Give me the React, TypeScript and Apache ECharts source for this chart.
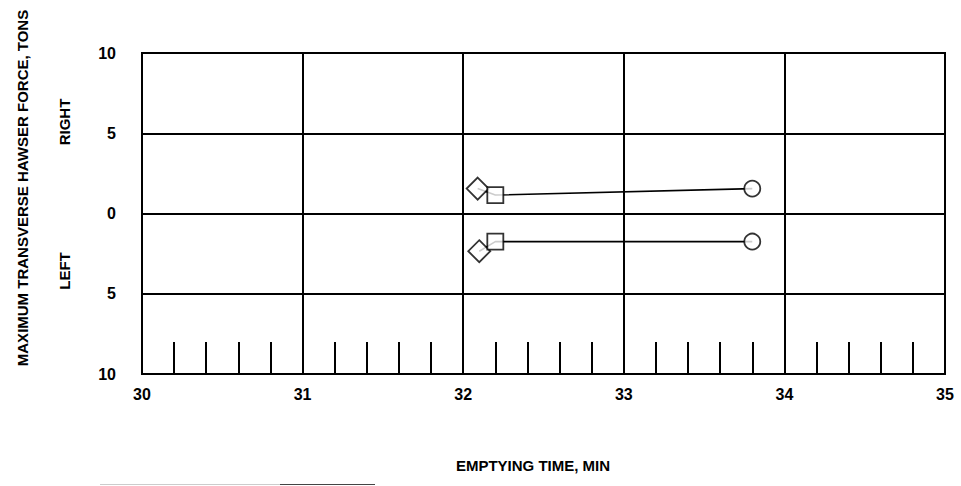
import React, { useEffect, useRef } from "react";
import * as echarts from "echarts";

// Emptying time (min) and maximum transverse hawser force (tons; + right, - left)
const diamondTimes = [32.09, 32.1];
const diamondForces = [1.55, -2.35];
const squareTimes = [32.2, 32.2];
const squareForces = [1.15, -1.75];
const circleTimes = [33.8, 33.8];
const circleForces = [1.55, -1.75];
const sideNames = ["RIGHT", "LEFT"];

const xTicks = [30, 31, 32, 33, 34, 35];
const yTicks = [-10, -5, 0, 5, 10];

const FONT = "Liberation Sans";

export default function App() {
  const ref = useRef<HTMLDivElement>(null);
  useEffect(() => {
    if (!ref.current) return;
    const chart = echarts.init(ref.current, undefined, { renderer: "svg" });
    const markerStyle = { color: "#fff", borderColor: "#000", borderWidth: 1.8 };
    const lineSeries = sideNames.map((name, i) => ({
      name,
      type: "line",
      data: [
        [diamondTimes[i], diamondForces[i]],
        [squareTimes[i], squareForces[i]],
        [circleTimes[i], circleForces[i]],
      ],
      showSymbol: false,
      symbol: "none",
      lineStyle: { color: "#000", width: 1.6 },
      z: 3,
    }));
    const scatter = (symbol: string, size: any, xs: number[], ys: number[]) => ({
      type: "scatter",
      symbol,
      symbolSize: size,
      data: xs.map((x, i) => [x, ys[i]]),
      itemStyle: markerStyle,
      z: 4,
    });
    const titleStyle = {
      fontFamily: FONT,
      fontWeight: "bold",
      fontSize: 15,
      fill: "#000",
      align: "center",
      verticalAlign: "middle",
    };
    chart.setOption({
      animation: false,
      backgroundColor: "#fff",
      grid: {
        left: 142,
        right: 16,
        top: 53,
        bottom: 112,
        show: true,
        borderColor: "#000",
        borderWidth: 2,
      },
      xAxis: {
        type: "value",
        min: xTicks[0],
        max: xTicks[xTicks.length - 1],
        interval: 1,
        axisLine: { show: true, onZero: false, lineStyle: { color: "#000", width: 2 } },
        axisTick: { show: false, inside: true },
        minorTick: { show: true, splitNumber: 5, length: 32, lineStyle: { color: "#000", width: 2 } },
        splitLine: { show: true, lineStyle: { color: "#000", width: 2 } },
        axisLabel: {
          color: "#000",
          fontFamily: FONT,
          fontWeight: "bold",
          fontSize: 16,
          margin: 12,
        },
      },
      yAxis: {
        type: "value",
        min: yTicks[0],
        max: yTicks[yTicks.length - 1],
        interval: 5,
        axisLine: { show: true, onZero: false, lineStyle: { color: "#000", width: 2 } },
        axisTick: { show: false },
        splitLine: { show: true, lineStyle: { color: "#000", width: 2 } },
        axisLabel: {
          color: "#000",
          fontFamily: FONT,
          fontWeight: "bold",
          fontSize: 16,
          margin: 26,
          formatter: (v: number) => String(Math.abs(v)),
        },
      },
      series: [
        ...lineSeries,
        scatter("diamond", [22, 22], diamondTimes, diamondForces),
        scatter("rect", 16, squareTimes, squareForces),
        scatter("circle", 16, circleTimes, circleForces),
      ],
      graphic: [
        {
          type: "text",
          x: 22,
          y: 188,
          rotation: Math.PI / 2,
          style: { ...titleStyle, text: "MAXIMUM TRANSVERSE HAWSER FORCE, TONS" },
        },
        {
          type: "text",
          x: 64,
          y: 122,
          rotation: Math.PI / 2,
          style: { ...titleStyle, text: sideNames[0] },
        },
        {
          type: "text",
          x: 64,
          y: 271,
          rotation: Math.PI / 2,
          style: { ...titleStyle, text: sideNames[1] },
        },
        {
          type: "text",
          x: 533,
          y: 465,
          style: { ...titleStyle, text: "EMPTYING TIME, MIN" },
        },
        {
          type: "line",
          shape: { x1: 100, y1: 484.5, x2: 280, y2: 484.5 },
          style: { stroke: "#ccc", lineWidth: 1 },
        },
        {
          type: "line",
          shape: { x1: 280, y1: 484.5, x2: 375, y2: 484.5 },
          style: { stroke: "#444", lineWidth: 1 },
        },
      ],
    });
    return () => chart.dispose();
  }, []);
  return (
    <div
      ref={ref}
      style={{ position: "fixed", left: 0, top: 0, width: 961, height: 486 }}
    />
  );
}
